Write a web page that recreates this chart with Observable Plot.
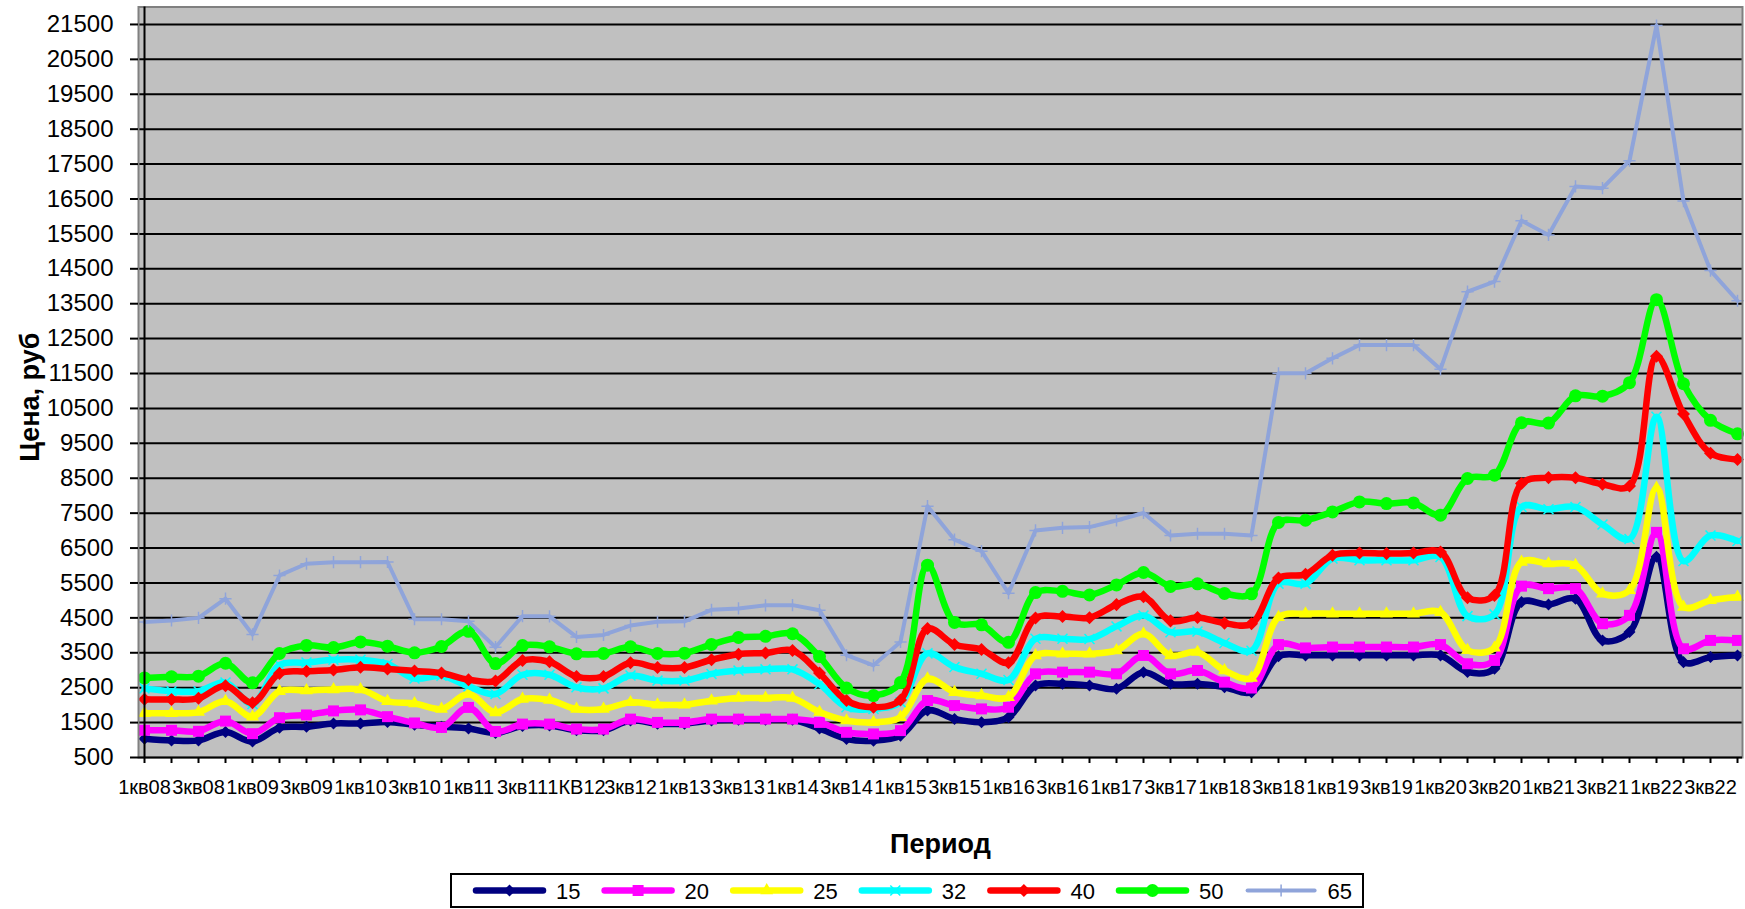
<!DOCTYPE html>
<html><head><meta charset="utf-8">
<script src="https://cdn.jsdelivr.net/npm/d3@7"></script>
<script src="https://cdn.jsdelivr.net/npm/@observablehq/plot@0.6"></script>
<style>
body{margin:0;background:#fff;font-family:"Liberation Sans",Arial,sans-serif;}
#wrap{position:relative;width:1745px;height:909px;overflow:hidden;}
#legend{position:absolute;left:0;top:872px;}
</style></head><body><div id="wrap"><div id="chart"></div><svg id="legend" width="1745" height="37"></svg></div>
<script>
const categories = [
"1кв08","2кв08","3кв08","4кв08","1кв09","2кв09","3кв09","4кв09",
"1кв10","2кв10","3кв10","4кв10","1кв11","2кв11","3кв11","4кв11",
"1КВ12","2кв12","3кв12","4кв12","1кв13","2кв13","3кв13","4кв13",
"1кв14","2кв14","3кв14","4кв14","1кв15","2кв15","3кв15","4кв15",
"1кв16","2кв16","3кв16","4кв16","1кв17","2кв17","3кв17","4кв17",
"1кв18","2кв18","3кв18","4кв18","1кв19","2кв19","3кв19","4кв19",
"1кв20","2кв20","3кв20","4кв20","1кв21","2кв21","3кв21","4кв21",
"1кв22","2кв22","3кв22","4кв22"];
const tickLabels = ["1кв08","3кв08","1кв09","3кв09","1кв10","3кв10","1кв11","3кв11","1КВ12","3кв12",
"1кв13","3кв13","1кв14","3кв14","1кв15","3кв15","1кв16","3кв16","1кв17","3кв17",
"1кв18","3кв18","1кв19","3кв19","1кв20","3кв20","1кв21","3кв21","1кв22","3кв22"];
const yTicks = [500,1500,2500,3500,4500,5500,6500,7500,8500,9500,10500,11500,12500,13500,14500,15500,16500,17500,18500,19500,20500,21500];

const s15 = [1040,990,990,1230, 960,1350,1380,1475, 1475,1520,1440,1380, 1330,1200,1400,1420, 1280,1280,1560,1470, 1470,1560,1580,1580, 1580,1330,1031,983, 1127,1850,1605,1510, 1653,2562,2610,2562, 2467,2945,2610,2610, 2514,2371,3400,3426, 3426,3426,3426,3426, 3426,2950,3040,4955, 4880,5050,3854,4093, 6250,3232,3376,3424];
const s20 = [1280,1280,1251,1543, 1183,1640,1718,1835, 1864,1670,1490,1361, 1935,1246,1457,1457, 1313,1313,1600,1505, 1505,1600,1600,1600, 1600,1505,1222,1175, 1270,2132,1988,1892, 1940,2897,2945,2945, 2897,3423,2897,2993, 2658,2490,3735,3640, 3665,3665,3665,3665, 3735,3185,3281,5409, 5337,5337,4333,4572, 6950,3615,3854,3854];
const s25 = [1770,1770,1800,2110, 1670,2400,2420,2450, 2450,2110,2050,1890, 2318,1790,2175,2146, 1888,1888,2079,2012, 2012,2127,2203,2203, 2203,1800,1557,1510, 1653,2754,2371,2275, 2227,3423,3471,3471, 3567,4045,3423,3519, 2993,2780,4520,4620, 4620,4620,4620,4620, 4660,3570,3640,6100, 6055,6007,5194,5289, 8223,4811,5002,5098];
const s32 = [2480,2400,2400,2650, 2030,3150,3220,3300, 3300,3180,2760,2840, 2540,2320,2870,2870, 2510,2480,2847,2703, 2703,2895,2990,3025, 3025,2600,1940,1890, 2085,3483,3090,2900, 2720,3900,3900,3893, 4256,4568,4090,4110, 3778,3560,5480,5481, 6198,6150,6150,6150, 6246,4550,4600,7680, 7613,7678,7175,6757, 10264,6128,6861,6704];
const s40 = [2170,2160,2195,2555, 2070,2910,2968,3008, 3085,3038,2980,2920, 2730,2690,3277,3243, 2818,2818,3215,3077, 3077,3300,3460,3495, 3566,2920,2130,1940, 2150,4192,3737,3593, 3212,4495,4540,4505, 4880,5103,4414,4510, 4350,4330,5640,5749, 6293,6360,6341,6360, 6389,5074,5145,8349, 8518,8515,8327,8275, 11992,10338,9217,9039];
const s50 = [2780,2810,2830,3200, 2640,3480,3710,3650, 3810,3690,3500,3680, 4115,3190,3705,3670, 3470,3480,3670,3480, 3490,3740,3940,3970, 4045,3390,2490,2275, 2645,6010,4370,4300, 3800,5225,5260,5155, 5445,5800,5400,5475, 5200,5190,7235,7297, 7536,7823,7775,7794, 7441,8493,8589,10089, 10080,10860,10850,11238, 13615,11207,10160,9772];
const s65 = [4380,4425,4500,5050, 4025,5715,6050,6095, 6095,6100,4460,4460, 4400,3660,4550,4545, 3955,4010,4280,4390, 4400,4730,4770,4860, 4865,4720,3430,3140, 3810,7700,6740,6410, 5205,7005,7080,7100, 7290,7505,6860,6910, 6910,6860,11505,11505, 11935,12315,12315,12315, 11620,13845,14135,15880, 15470,16860,16810,17595, 21470,16440,14450,13585];

const seriesNames = ["15","20","25","32","40","50","65"];
const seriesValues = [s15,s20,s25,s32,s40,s50,s65];
const seriesColors = ["#000080","#FF00FF","#FFFF00","#00FFFF","#FF0000","#00FF00","#8FA4DA"];

const styles = {
  "15": {symbol:"square", rotate:45, r:4.8, filled:true, lw:6.5, curve:"catmull-rom"},
  "20": {symbol:"square", rotate:0, r:6.2, filled:true, lw:6.5, curve:"catmull-rom"},
  "25": {symbol:"triangle", rotate:0, r:4.8, filled:true, lw:6.5, curve:"catmull-rom"},
  "32": {symbol:"times", rotate:0, r:4.6, filled:false, lw:6.5, curve:"catmull-rom"},
  "40": {symbol:"square", rotate:45, r:5.2, filled:true, lw:6.5, curve:"catmull-rom"},
  "50": {symbol:"circle", rotate:0, r:6.5, filled:true, lw:6.5, curve:"catmull-rom"},
  "65": {symbol:"plus", rotate:0, r:4, filled:false, lw:4, curve:"linear"}
};

const shown = new Set(tickLabels);
const font = "'Liberation Sans', Arial, sans-serif";

const seriesMarks = seriesNames.flatMap((name, k) => {
  const st = styles[name];
  const color = seriesColors[k];
  const data = seriesValues[k].map((v, i) => ({q: categories[i], v}));
  const dotOpts = st.filled
    ? {x:"q", y:"v", symbol: st.symbol, r: st.r, rotate: st.rotate, fill: color, stroke: "none"}
    : {x:"q", y:"v", symbol: st.symbol, r: st.r, rotate: st.rotate, fill: "none", stroke: color, strokeWidth: 1.5};
  return [
    Plot.line(data, {x:"q", y:"v", stroke: color, strokeWidth: st.lw, curve: st.curve, strokeLinejoin:"round", strokeLinecap:"round"}),
    Plot.dot(data, dotOpts)
  ];
});

const chart = Plot.plot({
  width: 1745, height: 872,
  marginLeft: 138, marginRight: 3, marginTop: 6.5, marginBottom: 115,
  style: {fontFamily: font, background: "#fff", color: "#000", overflow: "visible"},
  x: {type: "point", domain: categories, padding: 0, axis: null},
  y: {domain: [500, 22000], axis: null},
  marks: [
    Plot.frame({fill: "#C0C0C0"}),
    Plot.ruleY(yTicks.slice(1), {stroke: "#000", strokeWidth: 2}),
    ...seriesMarks,
    Plot.frame({stroke: "#808080", strokeWidth: 2}),
    Plot.ruleX([categories[0]], {stroke: "#000", strokeWidth: 2}),
    Plot.ruleY([500], {stroke: "#000", strokeWidth: 2}),
    Plot.axisY(yTicks, {anchor: "left", label: null, tickSize: 8, tickPadding: 17, fontSize: 24, tickFormat: d => String(d), stroke: "#000", strokeWidth: 2, fill: "#000"}),
    Plot.axisX(categories, {anchor: "bottom", label: null, tickSize: 6, tickPadding: 16, fontSize: 20, tickFormat: d => shown.has(d) ? d : "", stroke: "#000", strokeWidth: 2, fill: "#000"}),
    Plot.text(["Цена, руб"], {frameAnchor: "left", textAnchor: "middle", lineAnchor: "middle", dx: -108, dy: 15, rotate: -90, fontSize: 27, fontWeight: "bold", fill: "#000", text: d => d}),
    Plot.text(["Период"], {frameAnchor: "bottom", textAnchor: "middle", lineAnchor: "middle", dy: 87, fontSize: 27, fontWeight: "bold", fill: "#000", text: d => d})
  ]
});
document.getElementById("chart").appendChild(chart);

// legend
const lg = d3.select("#legend");
lg.append("rect").attr("x", 451).attr("y", 2).attr("width", 912).attr("height", 33)
  .attr("fill", "#fff").attr("stroke", "#000").attr("stroke-width", 2);
const symMap = {square: d3.symbolSquare, triangle: d3.symbolTriangle, times: d3.symbolTimes, circle: d3.symbolCircle, plus: d3.symbolPlus};
seriesNames.forEach((name, k) => {
  const st = styles[name];
  const color = seriesColors[k];
  const x0 = 476 + 128.6 * k, yc = 18.5;
  lg.append("line").attr("x1", x0).attr("x2", x0 + 67).attr("y1", yc).attr("y2", yc)
    .attr("stroke", color).attr("stroke-width", st.lw).attr("stroke-linecap", "round");
  const p = d3.symbol(symMap[st.symbol], Math.PI * st.r * st.r)();
  const path = lg.append("path").attr("d", p)
    .attr("transform", `translate(${x0 + 33.5},${yc}) rotate(${st.rotate})`);
  if (st.filled) path.attr("fill", color); else path.attr("fill", "none").attr("stroke", color).attr("stroke-width", 1.5);
  lg.append("text").attr("x", x0 + 80).attr("y", yc + 8).attr("font-size", 22)
    .attr("font-family", font).attr("fill", "#000").text(name);
});
</script></body></html>
